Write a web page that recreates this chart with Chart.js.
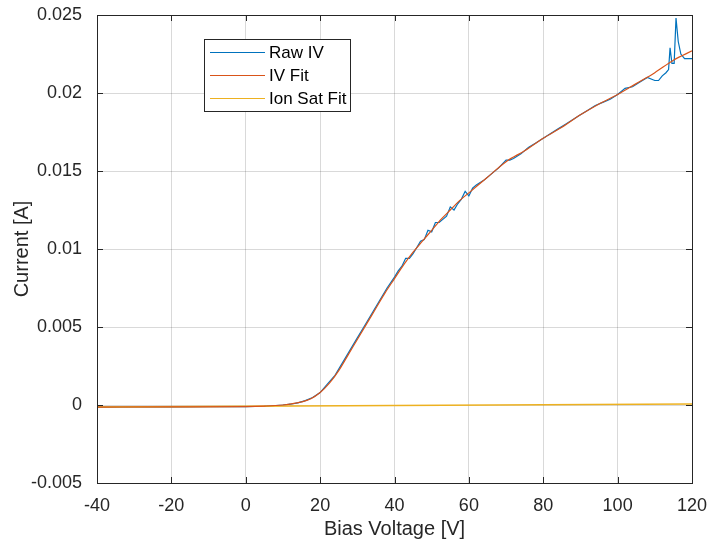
<!DOCTYPE html>
<html><head><meta charset="utf-8">
<script src="https://cdn.jsdelivr.net/npm/chart.js@4/dist/chart.umd.min.js"></script>
<style>html,body{margin:0;padding:0;background:#fff}</style>
</head><body>
<canvas id="c" width="707" height="544"></canvas>
<script>
// ---- data ----
const rawV = [-40,-30,-20,-10,0,5,10,12,14,16,18,20,22,24,26,28,30,32,34,36,38,40,41,42,43,44,45,46,47,48,49,50,51,52,53,54,55,56,57,58,59,60,61,62,64,66,68,70,71,72,74,76,78,80,82,84,86,88,90,92,94,96,98,100,102,104,106,108,109,110,111,112,113,113.7,114.1,114.6,115.2,115.7,116.3,117,118,119,120];
const rawI = [-0.00013,-0.00012,-0.00012,-0.00011,-0.0001,-0.00008,0.0,0.00005,0.00014,0.00028,0.00048,0.0008,0.00135,0.0019,0.0027,0.0035,0.0043,0.0051,0.0059,0.0067,0.0075,0.0082,0.0086,0.0089,0.0094,0.0094,0.0097,0.0101,0.0105,0.0106,0.0112,0.0111,0.0117,0.0117,0.0119,0.0121,0.0127,0.0125,0.0129,0.0132,0.0137,0.0134,0.0139,0.0141,0.0144,0.0148,0.0152,0.0157,0.0157,0.0158,0.0161,0.0165,0.0168,0.0171,0.0174,0.0177,0.0180,0.0183,0.0186,0.0189,0.0192,0.0194,0.0196,0.0199,0.0203,0.0204,0.0207,0.0210,0.0209,0.0208,0.0208,0.0211,0.0213,0.0215,0.0229,0.0219,0.0219,0.0248,0.0233,0.0225,0.0222,0.0222,0.0222];
const fitV = [-40,-20,0,5,10,13,15,17.5,20,22.5,25,27.5,30,32.5,35,37.5,40,42.5,45,47.5,50,52.5,55,57.5,60,65,70,75,80,85,90,95,100,105,110,115,120];
const fitI = [-0.00013,-0.00012,-0.0001,-0.00007,0.0,0.0001,0.0002,0.0004,0.0008,0.0014,0.0022,0.0032,0.0042,0.0052,0.0062,0.0072,0.0081,0.009,0.0098,0.0105,0.0112,0.0119,0.0125,0.0131,0.0136,0.0146,0.0156,0.0163,0.0171,0.0178,0.0186,0.0193,0.0199,0.0206,0.0213,0.0221,0.0227];
const ionV = [-40,120];
const ionI = [-0.00013,0.00006];
const seriesNames = ['Raw IV','IV Fit','Ion Sat Fit'];
const xTicks = [-40,-20,0,20,40,60,80,100,120];
const yTicks = [-0.005,0,0.005,0.01,0.015,0.02,0.025];

const FONT = '"Liberation Sans", Arial, sans-serif';
const AX = '#262626';
const pts = (xs, ys) => xs.map((x, i) => ({x, y: ys[i]}));

const boxPlugin = {
  id: 'matlabBox',
  afterDatasetsDraw(chart) {
    const {ctx, chartArea: a, scales: {x, y}} = chart;
    ctx.save();
    ctx.strokeStyle = AX; ctx.lineWidth = 1;
    ctx.beginPath();
    const L = 6;
    xTicks.forEach(v => {
      const px = Math.round(x.getPixelForValue(v)) + 0.5;
      ctx.moveTo(px, a.bottom); ctx.lineTo(px, a.bottom - L);
      ctx.moveTo(px, a.top); ctx.lineTo(px, a.top + L);
    });
    yTicks.forEach(v => {
      const py = Math.round(y.getPixelForValue(v)) + 0.5;
      ctx.moveTo(a.left, py); ctx.lineTo(a.left + L, py);
      ctx.moveTo(a.right, py); ctx.lineTo(a.right - L, py);
    });
    ctx.stroke();
    ctx.strokeRect(Math.round(a.left) + 0.5, Math.round(a.top) + 0.5, Math.round(a.right - a.left), Math.round(a.bottom - a.top));
    // legend
    const lx = 204.5, ly = 39.5, lw = 146, lh = 72;
    ctx.fillStyle = '#fff';
    ctx.fillRect(lx, ly, lw, lh);
    ctx.strokeStyle = AX;
    ctx.strokeRect(lx, ly, lw, lh);
    ctx.font = '17px ' + FONT;
    ctx.textBaseline = 'middle';
    ctx.textAlign = 'left';
    chart.data.datasets.forEach((ds, i) => {
      const yy = 52.5 + i * 23;
      ctx.strokeStyle = ds.borderColor; ctx.lineWidth = 1.2;
      ctx.beginPath(); ctx.moveTo(210, yy); ctx.lineTo(265, yy); ctx.stroke();
      ctx.fillStyle = '#000';
      ctx.fillText(ds.label, 269, yy + 1);
    });
    ctx.restore();
  }
};

new Chart(document.getElementById('c'), {
  type: 'line',
  data: {
    datasets: [
      {label: seriesNames[0], data: pts(rawV, rawI), borderColor: '#0072BD', borderWidth: 1.2, pointRadius: 0, tension: 0, order: 3},
      {label: seriesNames[1], data: pts(fitV, fitI), borderColor: '#D95319', borderWidth: 1.2, pointRadius: 0, cubicInterpolationMode: 'monotone', order: 1},
      {label: seriesNames[2], data: pts(ionV, ionI), borderColor: '#EDB120', borderWidth: 1.4, pointRadius: 0, order: 2}
    ]
  },
  options: {
    responsive: false, animation: false,
    layout: {padding: {top: 15, right: 15, left: 0, bottom: 0}},
    plugins: {legend: {display: false}, tooltip: {enabled: false}},
    scales: {
      x: {
        type: 'linear', min: -40, max: 120,
        afterBuildTicks(s) { s.ticks = xTicks.map(v => ({value: v})); },
        afterFit(s) { s.height = 61; s.paddingLeft = 0; s.paddingRight = 0; },
        ticks: {color: AX, font: {family: FONT, size: 18}, padding: 12, maxRotation: 0, autoSkip: false,
                callback: v => String(v)},
        grid: {color: 'rgba(0,0,0,0.15)', drawTicks: false, tickLength: 0},
        border: {display: false},
        title: {display: true, text: 'Bias Voltage [V]', color: AX, font: {family: FONT, size: 20}, padding: {top: 0, bottom: 3}}
      },
      y: {
        type: 'linear', min: -0.005, max: 0.025,
        afterBuildTicks(s) { s.ticks = yTicks.map(v => ({value: v})); },
        afterFit(s) { s.width = 97; s.paddingTop = 0; s.paddingBottom = 0; },
        ticks: {color: AX, font: {family: FONT, size: 18}, padding: 15, autoSkip: false,
                callback: v => String(Number(v.toFixed(3)))},
        grid: {color: 'rgba(0,0,0,0.15)', drawTicks: false, tickLength: 0},
        border: {display: false},
        title: {display: true, text: 'Current [A]', color: AX, font: {family: FONT, size: 20}, padding: {top: 10, bottom: 0}}
      }
    }
  },
  plugins: [boxPlugin]
});
</script>
</body></html>
